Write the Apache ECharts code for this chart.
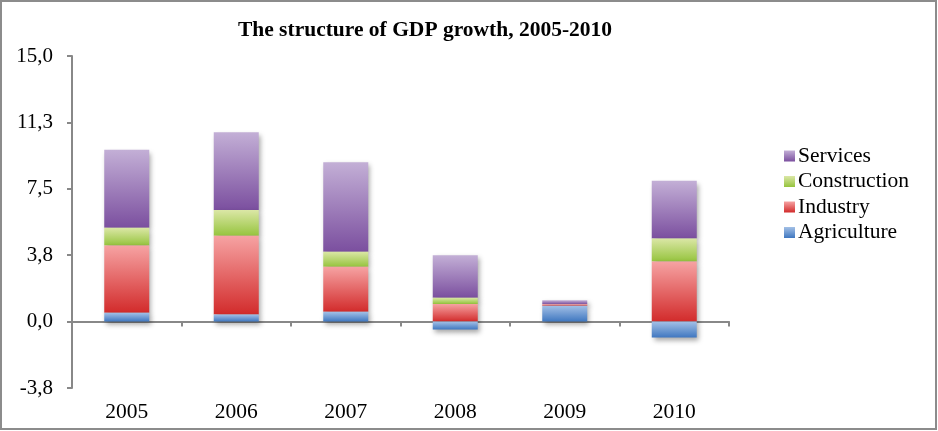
<!DOCTYPE html>
<html>
<head>
<meta charset="utf-8">
<script src="https://cdn.jsdelivr.net/npm/echarts@6/dist/echarts.min.js"></script>
<style>
  html, body { margin: 0; padding: 0; background: #fff; }
  #chart { width: 938px; height: 431px; }
</style>
</head>
<body>
<div id="chart"></div>
<script>
// GDP growth contributions by sector, percentage points
const years = ['2005', '2006', '2007', '2008', '2009', '2010'];
const agriculture = [0.5, 0.4, 0.55, -0.45, 0.9, -0.9];
const industry = [3.8, 4.45, 2.55, 1.0, 0.08, 3.4];
const construction = [1.0, 1.45, 0.85, 0.35, 0, 1.3];
const services = [4.4, 4.4, 5.05, 2.4, 0.22, 3.25];

const serif = '"Liberation Serif", "DejaVu Serif", serif';

function grad(top, bottom) {
  return new echarts.graphic.LinearGradient(0, 0, 0, 1, [
    { offset: 0, color: top },
    { offset: 1, color: bottom }
  ]);
}

function barSeries(name, data, top, bottom, z) {
  return {
    name: name,
    type: 'bar',
    stack: 'gdp',
    data: data,
    barWidth: 45,
    z: z,
    itemStyle: {
      color: grad(top, bottom),
      shadowColor: 'rgba(0,0,0,0.35)',
      shadowBlur: 5,
      shadowOffsetX: 2,
      shadowOffsetY: 3
    }
  };
}

const chart = echarts.init(document.getElementById('chart'), null, { renderer: 'canvas' });

chart.setOption({
  animation: false,
  backgroundColor: '#fff',
  title: {
    text: 'The structure of GDP growth, 2005-2010',
    left: 420,
    textAlign: 'center',
    top: 14,
    textStyle: { fontFamily: serif, fontWeight: 'bold', fontSize: 21.5, color: '#000' }
  },
  legend: {
    orient: 'vertical',
    left: 779,
    top: 140,
    icon: 'rect',
    itemWidth: 11,
    itemHeight: 11,
    itemGap: 3.5,
    data: ['Services', 'Construction', 'Industry', 'Agriculture'],
    textStyle: { fontFamily: serif, fontSize: 21.5, color: '#000', lineHeight: 22, padding: [0, 0, 0, -2] }
  },
  grid: { left: 72, right: 209, top: 56, bottom: 43 },
  xAxis: [
    {
      type: 'category',
      data: years,
      position: 'bottom',
      axisLine: { show: false, onZero: false },
      axisTick: { show: false },
      axisLabel: { fontFamily: serif, fontSize: 21.5, color: '#000', margin: 13 }
    },
    {
      type: 'category',
      data: years,
      position: 'bottom',
      axisLine: { show: true, onZero: true, lineStyle: { color: '#888', width: 2 } },
      axisTick: { show: true, length: 5, lineStyle: { color: '#888', width: 2 } },
      axisLabel: { show: false }
    }
  ],
  yAxis: {
    type: 'value',
    min: -3.75,
    max: 15,
    interval: 3.75,
    axisLine: { show: true, lineStyle: { color: '#888', width: 2 } },
    axisTick: { show: true, length: 5, lineStyle: { color: '#888', width: 2 } },
    splitLine: { show: false },
    axisLabel: {
      fontFamily: serif,
      fontSize: 21,
      color: '#000',
      margin: 19,
      formatter: v => v.toFixed(1).replace('.', ',')
    }
  },
  series: [
    barSeries('Agriculture', agriculture, '#a3c0e6', '#3f77c0', 5),
    barSeries('Industry', industry, '#f6a3a3', '#d22b2b', 4),
    barSeries('Construction', construction, '#dbe7a6', '#96c43e', 3),
    barSeries('Services', services, '#c3afd6', '#7b4f9f', 2)
  ],
  graphic: [
    {
      type: 'rect',
      shape: { x: 1, y: 1, width: 935, height: 428 },
      style: { fill: 'none', stroke: '#8c8c8c', lineWidth: 2 },
      silent: true,
      z: 100
    }
  ]
});
</script>
</body>
</html>
